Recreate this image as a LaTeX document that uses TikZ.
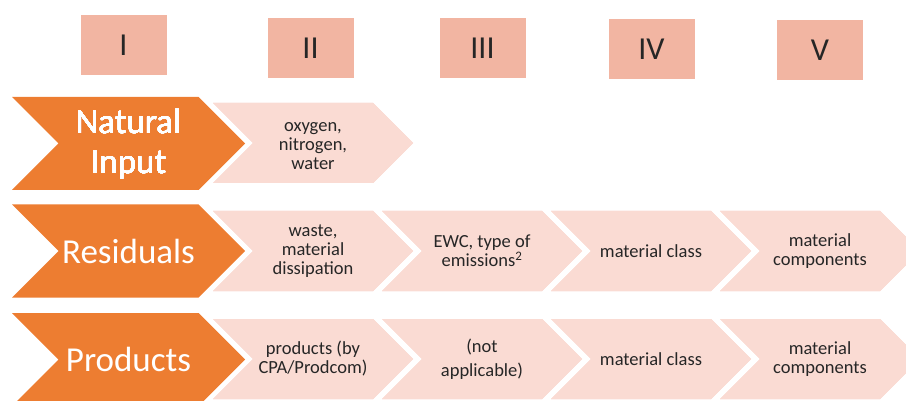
\documentclass[tikz,border=0pt]{standalone}
\usepackage{fontspec}
\setmainfont{Carlito}
\usetikzlibrary{positioning}
\definecolor{darkorange}{HTML}{ED7D31}
\definecolor{headsalmon}{HTML}{F2B5A2}
\definecolor{lightpink}{HTML}{FADBD3}
\definecolor{textgrey}{HTML}{262626}
% chevron: left x, centre y, width, height, colour
\newcommand{\chevron}[5]{%
  \fill[#5] (#1,#2-#4/2) -- ++(#3-#4/2,0) -- ++(#4/2,#4/2) -- ++(-#4/2,#4/2)
    -- ++(-#3+#4/2,0) -- ++(#4/2,-#4/2) -- cycle;}

\begin{document}
\begin{tikzpicture}[x=1pt,y=-1pt,
  hdr/.style={fill=headsalmon,minimum width=86pt,minimum height=60pt,
    text=textgrey,font=\fontsize{32}{38}\selectfont},
  rowlabel/.style={align=center,text=white,font=\fontsize{35}{40}\selectfont},
  cell/.style={align=center,text=textgrey,font=\fontsize{18.5}{19}\selectfont}]
		\useasboundingbox (0,0) rectangle (906,401);
		% draw header boxes
		\foreach \x/\y/\n [count=\i] in {123.5/45.5/I,310.5/48.5/II,482.5/48.5/III,651.5/49.5/IV,820/50.5/V}
		\node[hdr] (hdr\i) at (\x,\y) {\n};
		% draw chevrons
		\foreach \y in {143.5,251,359.5}
		\chevron{12}{\y}{233}{93}{darkorange}
		\chevron{213}{143}{200}{80}{lightpink}
		\foreach \y in {251,359}
		\foreach \x in {213,382,551,720}
		\chevron{\x}{\y}{200}{80}{lightpink}
		% draw nodes
		\node[rowlabel] (nat) at (128.5,144) {Natural\\Input};
		\node[rowlabel] (res) at (128.5,251) {Residuals};
		\node[rowlabel] (prod) at (128.5,359.5) {Products};
		\node[cell] (nat2) at (313,146) {oxygen,\\nitrogen,\\water};
		\node[cell] (res2) at (313,251) {waste,\\material\\dissipation};
		\node[cell] (res3) at (482,251) {EWC, type of\\emissions\textsuperscript{2}};
		\node[cell] (res4) at (651,251) {material class};
		\node[cell] (res5) at (820,251) {material\\components};
		\node[cell] (prod2) at (313,359) {products (by\\CPA/Prodcom)};
		\node[cell] (prod3) at (482,359) {(not\\[5pt]applicable)};
		\node[cell] (prod4) at (651,359) {material class};
		\node[cell] (prod5) at (820,359) {material\\components};
\end{tikzpicture}
\end{document}
